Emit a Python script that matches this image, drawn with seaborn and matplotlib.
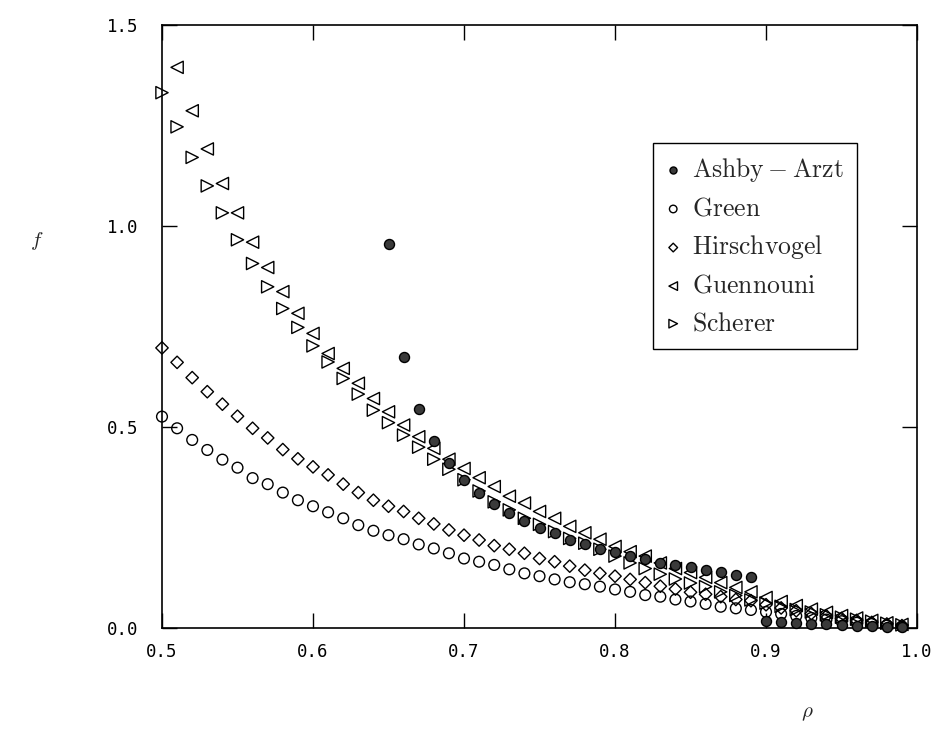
import numpy as np
import pandas as pd
import matplotlib
matplotlib.use("Agg")
import matplotlib.pyplot as plt
import seaborn as sns

# ---------------- data ----------------
rho_green = [0.50, 0.51, 0.52, 0.53, 0.54, 0.55, 0.56, 0.57, 0.58, 0.59,
             0.60, 0.61, 0.62, 0.63, 0.64, 0.65, 0.66, 0.67, 0.68, 0.69,
             0.70, 0.71, 0.72, 0.73, 0.74, 0.75, 0.76, 0.77, 0.78, 0.79,
             0.80, 0.81, 0.82, 0.83, 0.84, 0.85, 0.86, 0.87, 0.88, 0.89,
             0.90, 0.91, 0.92, 0.93, 0.94, 0.95, 0.96, 0.97, 0.98, 0.99]
f_green = [0.526, 0.497, 0.468, 0.443, 0.419, 0.399, 0.373, 0.358, 0.337, 0.318,
           0.303, 0.288, 0.273, 0.256, 0.242, 0.231, 0.221, 0.208, 0.198, 0.186,
           0.173, 0.165, 0.157, 0.146, 0.136, 0.129, 0.121, 0.114, 0.109, 0.103,
           0.096, 0.090, 0.082, 0.078, 0.071, 0.066, 0.060, 0.053, 0.049, 0.045,
           0.040, 0.035, 0.030, 0.025, 0.021, 0.017, 0.013, 0.010, 0.007, 0.004]

rho_hirsch = rho_green
f_hirsch = [0.697, 0.661, 0.623, 0.588, 0.557, 0.527, 0.497, 0.473, 0.444, 0.421,
            0.401, 0.381, 0.358, 0.337, 0.318, 0.303, 0.290, 0.273, 0.259, 0.244,
            0.231, 0.219, 0.205, 0.196, 0.186, 0.173, 0.165, 0.154, 0.144, 0.136,
            0.129, 0.121, 0.113, 0.104, 0.097, 0.089, 0.084, 0.078, 0.071, 0.068,
            0.058, 0.050, 0.043, 0.036, 0.030, 0.024, 0.019, 0.014, 0.010, 0.006]

rho_scherer = rho_green
f_scherer = [1.332, 1.247, 1.171, 1.100, 1.033, 0.966, 0.907, 0.849, 0.795, 0.748,
             0.702, 0.662, 0.621, 0.582, 0.542, 0.511, 0.480, 0.450, 0.420, 0.395,
             0.369, 0.341, 0.314, 0.294, 0.273, 0.258, 0.240, 0.223, 0.211, 0.196,
             0.179, 0.162, 0.148, 0.134, 0.122, 0.112, 0.103, 0.090, 0.081, 0.070,
             0.062, 0.054, 0.046, 0.040, 0.033, 0.027, 0.022, 0.017, 0.012, 0.008]

rho_guen = rho_green[1:]
f_guen = [1.395, 1.287, 1.192, 1.106, 1.033, 0.960, 0.897, 0.837, 0.783,
          0.733, 0.683, 0.646, 0.609, 0.571, 0.538, 0.505, 0.476, 0.447, 0.420,
          0.397, 0.374, 0.352, 0.328, 0.311, 0.290, 0.273, 0.253, 0.237, 0.221,
          0.203, 0.190, 0.179, 0.162, 0.148, 0.138, 0.126, 0.113, 0.101, 0.090,
          0.076, 0.066, 0.056, 0.047, 0.039, 0.031, 0.025, 0.019, 0.013, 0.009]

rho_ashby = rho_green[15:]
f_ashby = [0.955, 0.675, 0.546, 0.466, 0.410,
           0.368, 0.335, 0.308, 0.285, 0.266, 0.248, 0.236, 0.219, 0.209, 0.197,
           0.188, 0.180, 0.172, 0.162, 0.157, 0.153, 0.144, 0.140, 0.133, 0.127,
           0.018, 0.016, 0.013, 0.011, 0.009, 0.007, 0.005, 0.004, 0.003, 0.002]

labels = [r"$\mathrm{Ashby - Arzt}$", r"$\mathrm{Green}$", r"$\mathrm{Hirschvogel}$",
          r"$\mathrm{Guennouni}$", r"$\mathrm{Scherer}$"]
x_ticks = [0.5, 0.6, 0.7, 0.8, 0.9, 1.0]
y_ticks = [0.0, 0.5, 1.0, 1.5]

# ---------------- styling ----------------
sns.set_style("ticks")
plt.rcParams["font.family"] = ["DejaVu Sans Mono", "DejaVu Sans"]
plt.rcParams["mathtext.fontset"] = "cm"

fig = plt.figure(figsize=(9.31, 7.29), dpi=100)
ax = fig.add_axes([0.174, 0.1385, 0.811, 0.827])

common = dict(ax=ax, edgecolor="black", linewidth=1.0, clip_on=False, zorder=3)
sns.scatterplot(x=rho_green, y=f_green, marker="o", s=60, facecolor="none",
                label=labels[1], **common)
sns.scatterplot(x=rho_hirsch, y=f_hirsch, marker="D", s=40, facecolor="none",
                label=labels[2], **common)
sns.scatterplot(x=rho_guen, y=f_guen, marker="<", s=78, facecolor="none",
                label=labels[3], **common)
sns.scatterplot(x=rho_scherer, y=f_scherer, marker=">", s=78, facecolor="none",
                label=labels[4], **common)
sns.scatterplot(x=rho_ashby, y=f_ashby, marker="o", s=52, facecolor="#3a3a3a",
                label=labels[0], **common)

ax.set_xlim(0.5, 1.0)
ax.set_ylim(0.0, 1.5)
ax.set_xticks(x_ticks)
ax.set_yticks(y_ticks)
ax.set_xticklabels([f"{v:.1f}" for v in x_ticks])
ax.set_yticklabels([f"{v:.1f}" for v in y_ticks])
ax.tick_params(axis="both", direction="in", length=10.5, width=1.0,
               top=True, right=True, labelsize=12.5, colors="black")
ax.tick_params(axis="y", pad=17)
ax.tick_params(axis="x", pad=11)
for sp in ax.spines.values():
    sp.set_linewidth(1.2)
    sp.set_color("black")
ax.set_xlabel("")
ax.set_ylabel("")

fig.text(0.040, 0.670, r"$f$", fontsize=15, ha="center", va="center")
fig.text(0.867, 0.022, r"$\rho$", fontsize=15, ha="center", va="center")

# legend in reference order
handles, labs = ax.get_legend_handles_labels()
order = [labs.index(l) for l in labels]
leg = ax.legend([handles[i] for i in order], [labs[i] for i in order],
                loc="upper right", bbox_to_anchor=(0.9205, 0.804),
                borderaxespad=0.0,
                fontsize=18.5, frameon=True, fancybox=False, edgecolor="black",
                framealpha=1, markerscale=0.7, handletextpad=0.45,
                labelspacing=0.45, borderpad=0.5, handlelength=0.6)
leg.get_frame().set_linewidth(1.0)

fig.savefig("out.png", dpi=100, facecolor="white")
